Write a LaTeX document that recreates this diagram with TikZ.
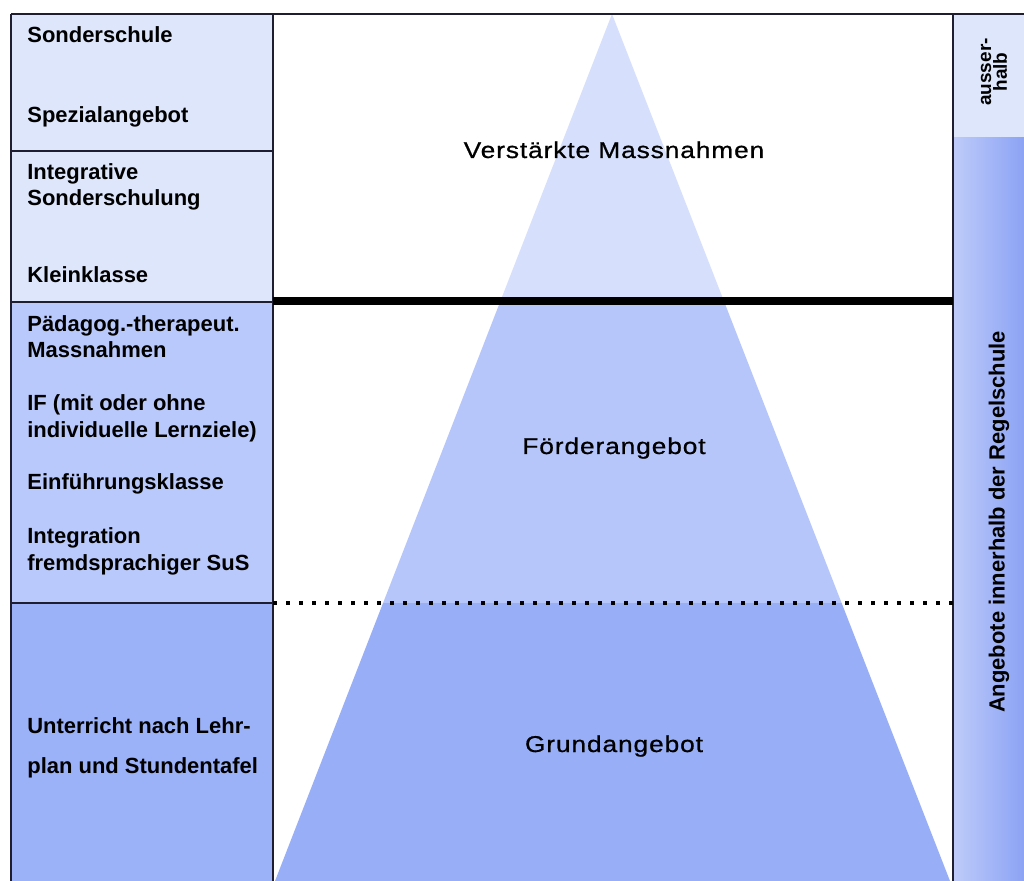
\documentclass[tikz,border=0pt]{standalone}
\usepackage{fontspec}
\setmainfont{Liberation Sans}
\newfontfamily\spacedfont[FakeStretch=1.15, LetterSpace=4, FakeBold=0.8]{Liberation Sans}
\usepackage{tikz}

\definecolor{bandtop}{RGB}{222,230,252}
\definecolor{bandmid}{RGB}{186,201,251}
\definecolor{bandlow}{RGB}{156,178,248}
\definecolor{tritop}{RGB}{214,223,252}
\definecolor{trimid}{RGB}{182,198,250}
\definecolor{trilow}{RGB}{152,175,247}
\definecolor{regelleft}{RGB}{190,203,249}
\definecolor{regelright}{RGB}{140,163,245}
\definecolor{framecol}{RGB}{30,30,48}

\begin{document}
\begin{tikzpicture}[x=0.02cm, y=-0.02cm,
  frame/.style={draw=framecol, line width=1pt},
  lefttext/.style={anchor=base west, inner sep=0pt, font=\bfseries\fontsize{12.5}{15}\selectfont},
  midtext/.style={anchor=base, inner sep=0pt, font=\spacedfont\fontsize{13}{16}\selectfont}]
%\draw[step=50,gray,very thin] (0,0) grid (1024,881); %grid lines
\useasboundingbox (0,0) rectangle (1024,881);
\fill[white] (0,0) rectangle (1024,881);

\coordinate (apex) at (612,14);
\coordinate (baseL) at (275,881);
\coordinate (baseR) at (950,881);

% left column
\fill[bandtop] (11,14) rectangle (273,302);
\fill[bandmid] (11,302) rectangle (273,603);
\fill[bandlow] (11,603) rectangle (273,881);

% triangle
\begin{scope}
\clip (apex) -- (baseL) -- (baseR) -- cycle;
\fill[tritop] (273,0) rectangle (953,301);
\fill[trimid] (273,301) rectangle (953,603);
\fill[trilow] (273,603) rectangle (953,881);
\end{scope}

% right column
\fill[bandtop] (953,14) rectangle (1024,138);
\shade[left color=regelleft, right color=regelright] (953,138) rectangle (1024,881);

\coordinate (tl) at (11,14);
\coordinate (tr) at (1024,14);
\coordinate (bl) at (11,881);
\coordinate (c1t) at (273,14);
\coordinate (c1b) at (273,881);
\coordinate (c2t) at (953,14);
\coordinate (c2b) at (953,881);
\coordinate (h1) at (11,151);
\coordinate (h1r) at (273,151);
\coordinate (h2) at (11,302);
\coordinate (h2r) at (273,302);
\coordinate (h3) at (11,603);
\coordinate (h3r) at (273,603);
\coordinate (thickR) at (953,301);
\coordinate (thickL) at (273,301);
\coordinate (dotR) at (953,603);

\draw[frame] (tl) -- (tr);
\draw[frame] (tl) -- (bl);
\draw[frame] (c1t) -- (c1b);
\draw[frame] (c2t) -- (c2b);
\draw[frame] (h1) -- (h1r);
\draw[frame] (h2) -- (h2r);
\draw[frame] (h3) -- (h3r);
\draw[line width=4.5pt] (thickL) -- (thickR);
\draw[line width=2.3pt, dash pattern=on 2.3pt off 5.1pt] (h3r) -- (dotR);

% left texts
\node[lefttext] (son) at (27,43) {Sonderschule};
\node[lefttext] (spez) at (27,123) {Spezialangebot};
\node[lefttext] (integ1) at (27,180) {Integrative};
\node[lefttext] (integ2) at (27,206) {Sonderschulung};
\node[lefttext] (klein) at (27,283) {Kleinklasse};
\node[lefttext] (paed1) at (27,332) {Pädagog.-therapeut.};
\node[lefttext] (paed2) at (27,358) {Massnahmen};
\node[lefttext] (if1) at (27,411) {IF (mit oder ohne};
\node[lefttext] (if2) at (27,438) {individuelle Lernziele)};
\node[lefttext] (einf) at (27,490) {Einführungsklasse};
\node[lefttext] (integr1) at (27,543) {Integration};
\node[lefttext] (integr2) at (27,570) {fremdsprachiger SuS};
\node[lefttext] (unt1) at (27,733) {Unterricht nach Lehr-};
\node[lefttext] (unt2) at (27,773) {plan und Stundentafel};

% middle texts
\node[midtext] (verst) at (614,158) {Verstärkte Massnahmen};
\node[midtext] (foerd) at (614,454) {Förderangebot};
\node[midtext] (grund) at (614,752) {Grundangebot};

% right texts
\node[rotate=90, inner sep=0pt, align=center, font=\bfseries\fontsize{10.8}{9}\selectfont] (ausser) at (994,72) {ausser-\\halb};
\node[rotate=90, inner sep=0pt, font=\bfseries\fontsize{12.5}{15}\selectfont] (regel) at (999,522) {Angebote innerhalb der Regelschule};
\end{tikzpicture}
\end{document}
